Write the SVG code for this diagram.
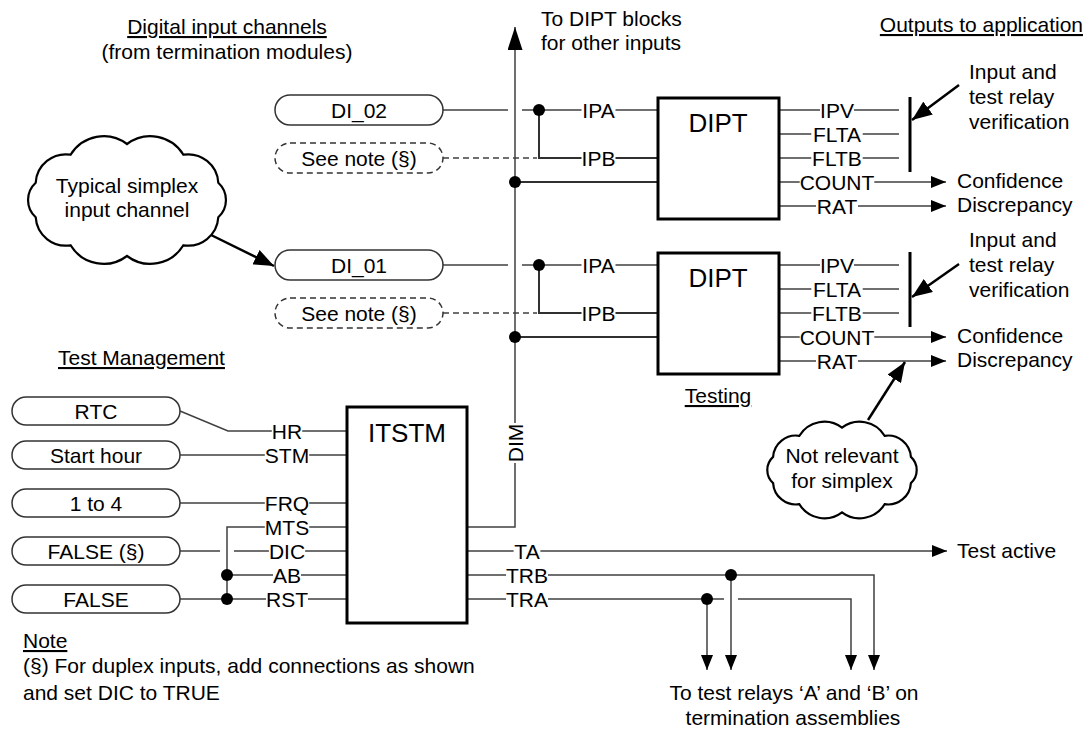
<svg xmlns="http://www.w3.org/2000/svg" width="1089" height="734" viewBox="0 0 1089 734">
<style>
.t{font-family:"Liberation Sans",Arial,sans-serif;font-size:21px;fill:#000}
.m{text-anchor:middle}
.e{text-anchor:end}
.u{text-decoration:underline}
.big{font-size:26px}
.ln{stroke:#404040;stroke-width:1.5;fill:none}
.bus{stroke:#303030;stroke-width:2;fill:none}
.box{fill:#fff;stroke:#000;stroke-width:3}
.pill{fill:#fff;stroke:#333;stroke-width:1.5}
.dash{stroke-dasharray:6 4}
.bar{stroke:#000;stroke-width:3;fill:none}
.thick{stroke:#000;stroke-width:2.5;fill:none}
.cloud{fill:#fff;stroke:#000;stroke-width:2.2}
.dot{fill:#000}
</style>
<defs>
<marker id="ah" viewBox="0 0 15 12" refX="15" refY="6" markerWidth="15" markerHeight="12" orient="auto" markerUnits="userSpaceOnUse"><path d="M0,0 L15,6 L0,12 z" fill="#000"/></marker>
<marker id="ahBig" viewBox="0 0 20 16" refX="20" refY="8" markerWidth="20" markerHeight="16" orient="auto" markerUnits="userSpaceOnUse"><path d="M0,0 L20,8 L0,16 z" fill="#000"/></marker>
<marker id="ahUp" viewBox="0 0 23 15" refX="23" refY="7.5" markerWidth="23" markerHeight="15" orient="auto" markerUnits="userSpaceOnUse"><path d="M0,0 L23,7.5 L0,15 z" fill="#000"/></marker>
</defs>
<rect width="1089" height="734" fill="#fff"/>

<g id="headings">
<text class="t m u" x="227" y="34">Digital input channels</text>
<text class="t m" x="227" y="59">(from termination modules)</text>
<text class="t" x="541" y="26">To DIPT blocks</text>
<text class="t" x="541" y="50">for other inputs</text>
<text class="t e u" x="1083" y="32">Outputs to application</text>
<text class="t u" x="58" y="365">Test Management</text>
<text class="t m u" x="718" y="403">Testing</text>
<text class="t u" x="23" y="648">Note</text>
<text class="t" x="23" y="673">(§) For duplex inputs, add connections as shown</text>
<text class="t" x="23" y="700">and set DIC to TRUE</text>
<text class="t" x="957" y="188">Confidence</text>
<text class="t" x="957" y="212">Discrepancy</text>
<text class="t" x="957" y="343">Confidence</text>
<text class="t" x="957" y="367">Discrepancy</text>
<text class="t" x="969" y="79">Input and</text>
<text class="t" x="969" y="104">test relay</text>
<text class="t" x="969" y="129">verification</text>
<text class="t" x="969" y="247">Input and</text>
<text class="t" x="969" y="272">test relay</text>
<text class="t" x="969" y="297">verification</text>
<text class="t" x="957" y="558">Test active</text>
<text class="t m" x="794" y="700">To test relays ‘A’ and ‘B’ on</text>
<text class="t m" x="793" y="725">termination assemblies</text>
</g>

<g id="connectors">
<path class="ln" d="M443,110 H508 M522,110 H581.5 M615.5,110 H658"/>
<path class="bus" d="M539,110 V158 H581.5 M615.5,158 H658"/>
<path class="ln dash" d="M443,158 H537"/>
<path class="bus" d="M515,182 H658"/>
<path class="ln" d="M443,265 H508 M522,265 H581.5 M615.5,265 H658"/>
<path class="bus" d="M539,265 V313 H581.5 M615.5,313 H658"/>
<path class="ln dash" d="M443,313 H537"/>
<path class="bus" d="M515,337 H658"/>
<path class="ln" d="M467,527 H515 V463 M515,423 V27" marker-end="url(#ahUp)"/>

<path class="ln" d="M779,110 H820 M854,110 H899 M779,134 H811.3 M862.7,134 H899 M779,158 H811.3 M862.7,158 H899"/>
<path class="ln" d="M779,182 H799.7 M874.3,182 H946" marker-end="url(#ah)"/>
<path class="ln" d="M779,206 H816 M858,206 H946" marker-end="url(#ah)"/>
<path class="ln" d="M779,265 H820 M854,265 H899 M779,289 H811.3 M862.7,289 H899 M779,313 H811.3 M862.7,313 H899"/>
<path class="ln" d="M779,337 H799.7 M874.3,337 H946" marker-end="url(#ah)"/>
<path class="ln" d="M779,361 H816 M858,361 H946" marker-end="url(#ah)"/>
<path class="bar" d="M910,97 V172 M910,252 V327"/>

<path class="thick" d="M959,85 L912,120" marker-end="url(#ahBig)"/>
<path class="thick" d="M959,264 L912,297" marker-end="url(#ahBig)"/>
<path class="thick" d="M207,233 L274,266" marker-end="url(#ahBig)"/>
<path class="thick" d="M868,420 L905,362" marker-end="url(#ahBig)"/>

<path class="ln" d="M180,411 L228,431 H271.8 M302.2,431 H347"/>
<path class="ln" d="M180,455 H264.8 M309.2,455 H347"/>
<path class="ln" d="M180,503 H264.8 M309.2,503 H347"/>
<path class="ln" d="M227,599 V527 H264.8 M309.2,527 H347"/>
<path class="ln" d="M180,551 H220 M234,551 H268.9 M305.1,551 H347"/>
<path class="ln" d="M227,575 H273 M301,575 H347"/>
<path class="ln" d="M180,599 H266 M308,599 H347"/>

<path class="ln" d="M467,551 H513.6 M540.4,551 H947" marker-end="url(#ah)"/>
<path class="ln" d="M467,575 H506 M548,575 H874 V670" marker-end="url(#ah)"/>
<path class="ln" d="M467,599 H506 M548,599 H724 M738,599 H851 V670" marker-end="url(#ah)"/>
<path class="ln" d="M707,599 V670" marker-end="url(#ah)"/>
<path class="ln" d="M731,575 V670" marker-end="url(#ah)"/>

<circle class="dot" cx="539" cy="110" r="6"/>
<circle class="dot" cx="515" cy="182" r="6"/>
<circle class="dot" cx="539" cy="265" r="6"/>
<circle class="dot" cx="515" cy="337" r="6"/>
<circle class="dot" cx="227" cy="575" r="6"/>
<circle class="dot" cx="227" cy="599" r="6"/>
<circle class="dot" cx="731" cy="575" r="6"/>
<circle class="dot" cx="707" cy="599" r="6"/>
</g>

<g id="pin-labels">
<text class="t m" x="598.5" y="117.5">IPA</text>
<text class="t m" x="598.5" y="165.5">IPB</text>
<text class="t m" x="598.5" y="272.5">IPA</text>
<text class="t m" x="598.5" y="320.5">IPB</text>
<text class="t m" x="837" y="117.5">IPV</text>
<text class="t m" x="837" y="141.5">FLTA</text>
<text class="t m" x="837" y="165.5">FLTB</text>
<text class="t m" x="837" y="189.5">COUNT</text>
<text class="t m" x="837" y="213.5">RAT</text>
<text class="t m" x="837" y="272.5">IPV</text>
<text class="t m" x="837" y="296.5">FLTA</text>
<text class="t m" x="837" y="320.5">FLTB</text>
<text class="t m" x="837" y="344.5">COUNT</text>
<text class="t m" x="837" y="368.5">RAT</text>
<text class="t m" x="287" y="438.5">HR</text>
<text class="t m" x="287" y="462.5">STM</text>
<text class="t m" x="287" y="510.5">FRQ</text>
<text class="t m" x="287" y="534.5">MTS</text>
<text class="t m" x="287" y="558.5">DIC</text>
<text class="t m" x="287" y="582.5">AB</text>
<text class="t m" x="287" y="606.5">RST</text>
<text class="t m" x="527" y="558.5">TA</text>
<text class="t m" x="527" y="582.5">TRB</text>
<text class="t m" x="527" y="606.5">TRA</text>
<text class="t m" transform="translate(515,443) rotate(-90)" y="7.5">DIM</text>
</g>

<g id="di02"><rect class="pill" x="275" y="95" width="168" height="30" rx="15"/><text class="t m" x="359" y="117.5">DI_02</text></g>
<g id="note1"><rect class="pill dash" x="275" y="143" width="168" height="30" rx="15"/><text class="t m" x="359" y="165.5">See note (§)</text></g>
<g id="di01"><rect class="pill" x="275" y="250" width="168" height="30" rx="15"/><text class="t m" x="359" y="272.5">DI_01</text></g>
<g id="note2"><rect class="pill dash" x="275" y="298" width="168" height="30" rx="15"/><text class="t m" x="359" y="320.5">See note (§)</text></g>
<g id="rtc"><rect class="pill" x="12" y="397" width="168" height="28" rx="14"/><text class="t m" x="96" y="418.5">RTC</text></g>
<g id="starthour"><rect class="pill" x="12" y="441" width="168" height="28" rx="14"/><text class="t m" x="96" y="462.5">Start hour</text></g>
<g id="oneto4"><rect class="pill" x="12" y="489" width="168" height="28" rx="14"/><text class="t m" x="96" y="510.5">1 to 4</text></g>
<g id="false1"><rect class="pill" x="12" y="537" width="168" height="28" rx="14"/><text class="t m" x="96" y="558.5">FALSE (§)</text></g>
<g id="false2"><rect class="pill" x="12" y="585" width="168" height="28" rx="14"/><text class="t m" x="96" y="606.5">FALSE</text></g>

<g id="dipt1"><rect class="box" x="658" y="98" width="121" height="121"/><text class="t m big" x="718" y="132">DIPT</text></g>
<g id="dipt2"><rect class="box" x="658" y="253" width="121" height="121"/><text class="t m big" x="718" y="287">DIPT</text></g>
<g id="itstm"><rect class="box" x="347" y="407" width="120" height="216"/><text class="t m big" x="407" y="442">ITSTM</text></g>

<g id="cloud1">
<path class="cloud" d="M218.3,217.3 A30.2,30.2 0 0 1 183.4,245.3 A38.7,38.7 0 0 1 127,256 A38.7,38.7 0 0 1 70.6,245.3 A30.2,30.2 0 0 1 35.7,217.3 A23.4,23.4 0 0 1 35.7,182.7 A30.2,30.2 0 0 1 70.6,154.7 A38.7,38.7 0 0 1 127,144 A38.7,38.7 0 0 1 183.4,154.7 A30.2,30.2 0 0 1 218.3,182.7 A23.4,23.4 0 0 1 218.3,217.3 Z"/>
<text class="t m" x="127" y="193">Typical simplex</text>
<text class="t m" x="127" y="217">input channel</text>
</g>
<g id="cloud2">
<path class="cloud" d="M910.9,483.1 A22.8,22.8 0 0 1 884.6,504.2 A29.2,29.2 0 0 1 842,512.3 A29.2,29.2 0 0 1 799.4,504.2 A22.8,22.8 0 0 1 773.1,483.1 A17.7,17.7 0 0 1 773.1,456.9 A22.8,22.8 0 0 1 799.4,435.8 A29.2,29.2 0 0 1 842,427.7 A29.2,29.2 0 0 1 884.6,435.8 A22.8,22.8 0 0 1 910.9,456.9 A17.7,17.7 0 0 1 910.9,483.1 Z"/>
<text class="t m" x="842" y="463">Not relevant</text>
<text class="t m" x="842" y="488">for simplex</text>
</g>
</svg>
